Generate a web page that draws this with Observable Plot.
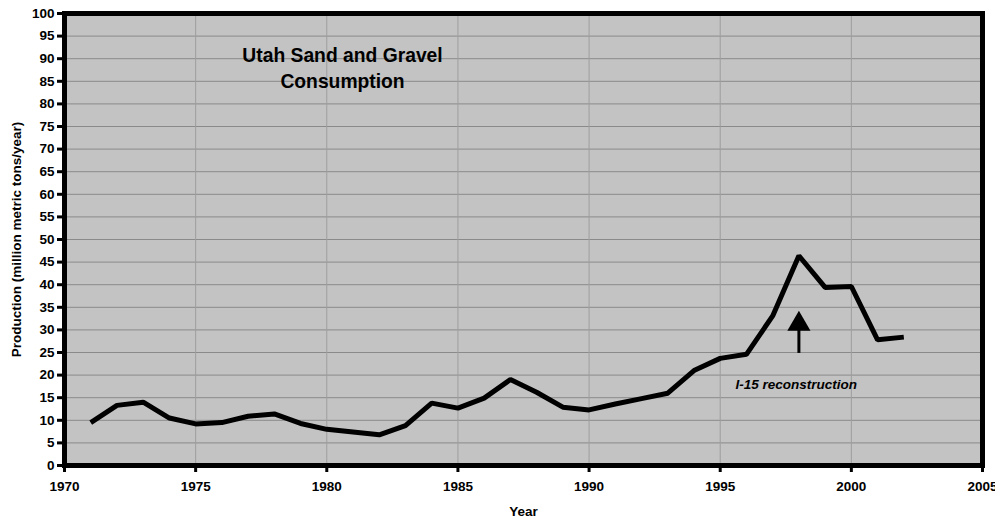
<!DOCTYPE html>
<html>
<head>
<meta charset="utf-8">
<script src="https://cdn.jsdelivr.net/npm/d3@7"></script>
<script src="https://cdn.jsdelivr.net/npm/@observablehq/plot@0.6"></script>
<style>
  html, body { margin: 0; padding: 0; background: #ffffff; }
  #chart { width: 995px; height: 518px; }
  #chart g[aria-label$="tick label"], #chart g[aria-label$="tick label"] text { font-size: 13.5px; font-weight: bold; }
</style>
</head>
<body>
<div id="chart"></div>
<script>
// ---- data ----
const years = [1971, 1972, 1973, 1974, 1975, 1976, 1977, 1978, 1979, 1980,
               1981, 1982, 1983, 1984, 1985, 1986, 1987, 1988, 1989, 1990,
               1991, 1992, 1993, 1994, 1995, 1996, 1997, 1998, 1999, 2000,
               2001, 2002];
const production = [9.5, 13.3, 14.0, 10.5, 9.2, 9.5, 10.9, 11.4, 9.3, 8.0,
                    7.4, 6.8, 8.8, 13.8, 12.7, 14.9, 19.0, 16.2, 12.9, 12.3,
                    13.6, 14.8, 16.0, 21.0, 23.7, 24.6, 33.1, 46.4, 39.4, 39.6,
                    27.8, 28.4];
const xTicks = [1970, 1975, 1980, 1985, 1990, 1995, 2000, 2005];
const yTicks = [0, 5, 10, 15, 20, 25, 30, 35, 40, 45, 50, 55, 60, 65, 70, 75, 80, 85, 90, 95, 100];
const titleLines = ["Utah Sand and Gravel", "Consumption"];
const titlePos = {x: 1980.6, y: 88.3};
const annotationText = "I-15 reconstruction";
const annotationPos = {x: 1997.9, y: 17.8};
const arrowYear = 1998;
const arrowShaft = {y1: 24.8, y2: 30.5};
const arrowHeadY = 31.3;
const xLabel = "Year";
const yLabel = "Production (million metric tons/year)";

const data = years.map((yr, i) => ({year: yr, value: production[i]}));

const font = "'Liberation Sans', Arial, Helvetica, sans-serif";

const chart = Plot.plot({
  width: 995,
  height: 518,
  marginLeft: 64,
  marginRight: 13,
  marginTop: 13,
  marginBottom: 53,
  style: {fontFamily: font, fontWeight: "bold", fontSize: "13.5px", background: "#ffffff", color: "#000"},
  x: {domain: [1970, 2005]},
  y: {domain: [0, 100]},
  marks: [
    Plot.frame({fill: "#c3c3c3", stroke: null}),
    Plot.gridY(yTicks, {stroke: "#8a8a8a", strokeOpacity: 1, strokeWidth: 1}),
    Plot.gridX(xTicks.slice(1, -1), {stroke: "#9e9e9e", strokeOpacity: 1, strokeWidth: 1}),
    Plot.line(data, {x: "year", y: "value", stroke: "#000", strokeWidth: 5, strokeLinejoin: "miter", strokeLinecap: "butt"}),
    Plot.ruleX([arrowYear], {y1: arrowShaft.y1, y2: arrowShaft.y2, stroke: "#000", strokeWidth: 3}),
    Plot.dot([arrowYear], {x: d => d, y: arrowHeadY, symbol: "triangle", r: 8.6, fill: "#000", stroke: null}),
    Plot.text([titleLines.join("\n")], {x: titlePos.x, y: titlePos.y, text: d => d, fontSize: 19.3, fontWeight: "bold", lineHeight: 1.35, fill: "#000"}),
    Plot.text([annotationText], {x: annotationPos.x, y: annotationPos.y, text: d => d, fontSize: 13.5, fontWeight: "bold", fontStyle: "italic", fill: "#000"}),
    Plot.frame({stroke: "#000", strokeWidth: 5}),
    Plot.axisY(yTicks, {tickSize: 7, tickPadding: 3, strokeWidth: 3, fontSize: 13.5, fontWeight: "bold",
      label: yLabel, labelAnchor: "center", labelOffset: 53, labelArrow: "none"}),
    Plot.axisX(xTicks, {tickSize: 7, tickPadding: 9, strokeWidth: 3, fontSize: 13.5, fontWeight: "bold", tickFormat: d => String(d),
      label: xLabel, labelAnchor: "center", labelOffset: 50, labelArrow: "none"})
  ]
});
document.getElementById("chart").appendChild(chart);
</script>
</body>
</html>
